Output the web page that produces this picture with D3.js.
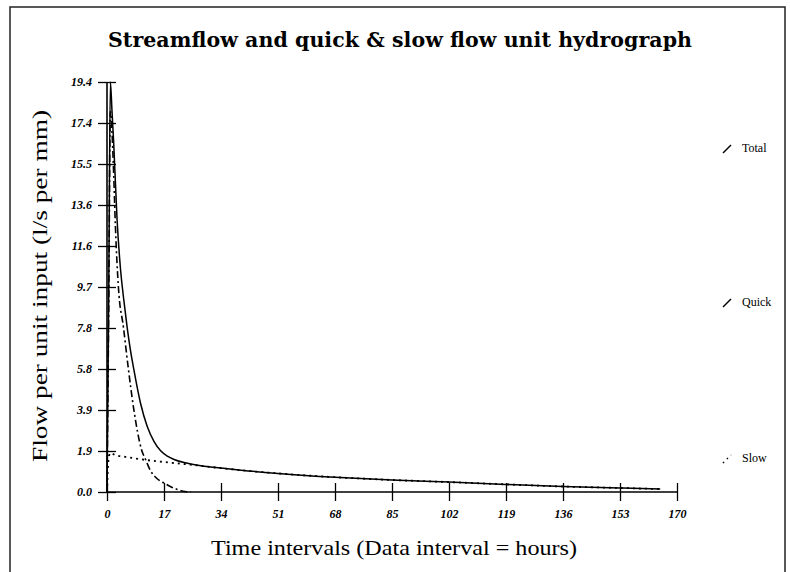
<!DOCTYPE html>
<meta charset="utf-8">
<style>
  body { margin: 0; background: #fff; }
  svg { display: block; }
  .tick text { font: italic bold 12px "Liberation Serif", serif; }
</style>
<body>
<div id="chartarea"></div>
<script src="https://cdn.jsdelivr.net/npm/d3@7"></script>
<script>

// values (time in hours, flow in l/s per mm)
var totalT   = [0, 0.5, 1, 1.5, 2, 3, 4, 5, 6, 7, 8, 10, 12, 14, 16, 18, 20, 24, 28, 34, 40, 51, 68, 85, 102, 119, 136, 153, 165];
var totalQ   = [0, 9.0, 19.4, 18.0, 16.5, 12.9, 10.6, 9.1, 7.8, 6.7, 5.8, 4.2, 3.1, 2.4, 1.95, 1.7, 1.54, 1.36, 1.24, 1.13, 1.03, 0.88, 0.70, 0.57, 0.47, 0.36, 0.26, 0.19, 0.14];

var quickT   = [0, 0.5, 1, 1.5, 2, 2.5, 3.4, 4.9, 6.4, 8, 10.3, 11.6, 13, 14.8, 17.3, 19, 20.8, 23.3, 25];
var quickQ   = [0, 8.5, 18.0, 17.0, 15.0, 12.6, 9.7, 7.8, 5.8, 3.9, 2.0, 1.5, 1.0, 0.65, 0.4, 0.25, 0.13, 0.02, 0];

var slowT    = [0, 0.3, 0.6, 1, 2.4, 6, 11.8, 17, 23.8, 28, 34, 40, 51, 68, 85, 102, 119, 136, 153, 165];
var slowQ    = [0, 1.2, 1.7, 1.85, 1.75, 1.65, 1.51, 1.42, 1.31, 1.24, 1.13, 1.03, 0.88, 0.70, 0.57, 0.47, 0.36, 0.26, 0.19, 0.14];

var xTicks = [0, 17, 34, 51, 68, 85, 102, 119, 136, 153, 170];
var yTickLabels = ["0.0", "1.9", "3.9", "5.8", "7.8", "9.7", "11.6", "13.6", "15.5", "17.4", "19.4"];
var yMax = 19.4;

var legendNames = ["Total", "Quick", "Slow"];

var svg = d3.select("#chartarea").append("svg")
    .attr("width", 790)
    .attr("height", 572);

// outer frame
svg.append("rect")
    .attr("x", 10).attr("y", 7)
    .attr("width", 775).attr("height", 580)
    .attr("fill", "none")
    .attr("stroke", "#222")
    .attr("stroke-width", 1.5);

svg.append("text")
    .attr("x", 400)
    .attr("y", 47)
    .attr("text-anchor", "middle")
    .attr("textLength", 584)
    .attr("lengthAdjust", "spacing")
    .style("font", "bold 20.5px 'DejaVu Serif', serif")
    .text("Streamflow and quick & slow flow unit hydrograph");

var x = d3.scaleLinear().domain([0, 170]).range([107, 677]);
var y = d3.scaleLinear().domain([0, yMax]).range([492, 82]);

var yTicks = yTickLabels.map(function(d, i) { return i * yMax / 10; });

// axes, ticks cross the axis line
var gy = svg.append("g")
    .attr("transform", "translate(107,0)")
    .call(d3.axisLeft(y)
      .tickValues(yTicks)
      .tickFormat(function(d, i) { return yTickLabels[i]; })
      .tickSize(9)
      .tickPadding(6));
gy.select(".domain").remove();
gy.selectAll(".tick line").attr("x1", 9).attr("stroke-width", 1.3);

var gx = svg.append("g")
    .attr("transform", "translate(0,492)")
    .call(d3.axisBottom(x)
      .tickValues(xTicks)
      .tickSize(9)
      .tickPadding(8));
gx.select(".domain").remove();
gx.selectAll(".tick line").attr("y1", -9).attr("stroke-width", 1.3);

svg.append("line")
    .attr("x1", 107).attr("x2", 107)
    .attr("y1", y(yMax)).attr("y2", y(0))
    .attr("stroke", "#000").attr("stroke-width", 1.6);
svg.append("line")
    .attr("x1", x(0)).attr("x2", x(170))
    .attr("y1", y(0)).attr("y2", y(0))
    .attr("stroke", "#000").attr("stroke-width", 1.6);

svg.append("text")
    .attr("transform", "translate(47,286) rotate(-90)")
    .attr("text-anchor", "middle")
    .attr("textLength", 352)
    .attr("lengthAdjust", "spacingAndGlyphs")
    .style("font", "22px 'Liberation Serif', serif")
    .text("Flow per unit input (l/s per mm)");

svg.append("text")
    .attr("x", 394)
    .attr("y", 555)
    .attr("text-anchor", "middle")
    .attr("textLength", 366)
    .attr("lengthAdjust", "spacingAndGlyphs")
    .style("font", "22px 'Liberation Serif', serif")
    .text("Time intervals (Data interval = hours)");

// curves
var line = d3.line()
    .x(function(d) { return x(d[0]); })
    .y(function(d) { return y(d[1]); })
    .curve(d3.curveMonotoneX);

function pairs(ts, qs) {
  return ts.map(function(t, i) { return [t, qs[i]]; });
}

svg.append("path")
    .datum(pairs(slowT, slowQ))
    .attr("d", line)
    .attr("fill", "none")
    .attr("stroke", "#000")
    .attr("stroke-width", 1.8)
    .attr("stroke-dasharray", "2,4");

svg.append("path")
    .datum(pairs(quickT, quickQ))
    .attr("d", line)
    .attr("fill", "none")
    .attr("stroke", "#000")
    .attr("stroke-width", 1.6)
    .attr("stroke-dasharray", "7,3,2,3");

svg.append("path")
    .datum(pairs(totalT, totalQ))
    .attr("d", line)
    .attr("fill", "none")
    .attr("stroke", "#000")
    .attr("stroke-width", 1.5);

// legend
var legendY = [149, 303, 459];
var legend = svg.selectAll(".legend")
    .data(legendNames)
    .enter().append("g")
    .attr("class", "legend")
    .attr("transform", function(d, i) { return "translate(723," + legendY[i] + ")"; });

legend.append("line")
    .attr("x1", 0).attr("y1", 4)
    .attr("x2", 8).attr("y2", -4)
    .attr("stroke", "#000")
    .attr("stroke-width", 1.4)
    .attr("stroke-dasharray", function(d, i) { return i === 2 ? "1.5,4" : null; });

legend.append("text")
    .attr("x", 19)
    .attr("y", 3)
    .style("font", "12px 'Liberation Serif', serif")
    .text(function(d) { return d; });

</script>
</body>
